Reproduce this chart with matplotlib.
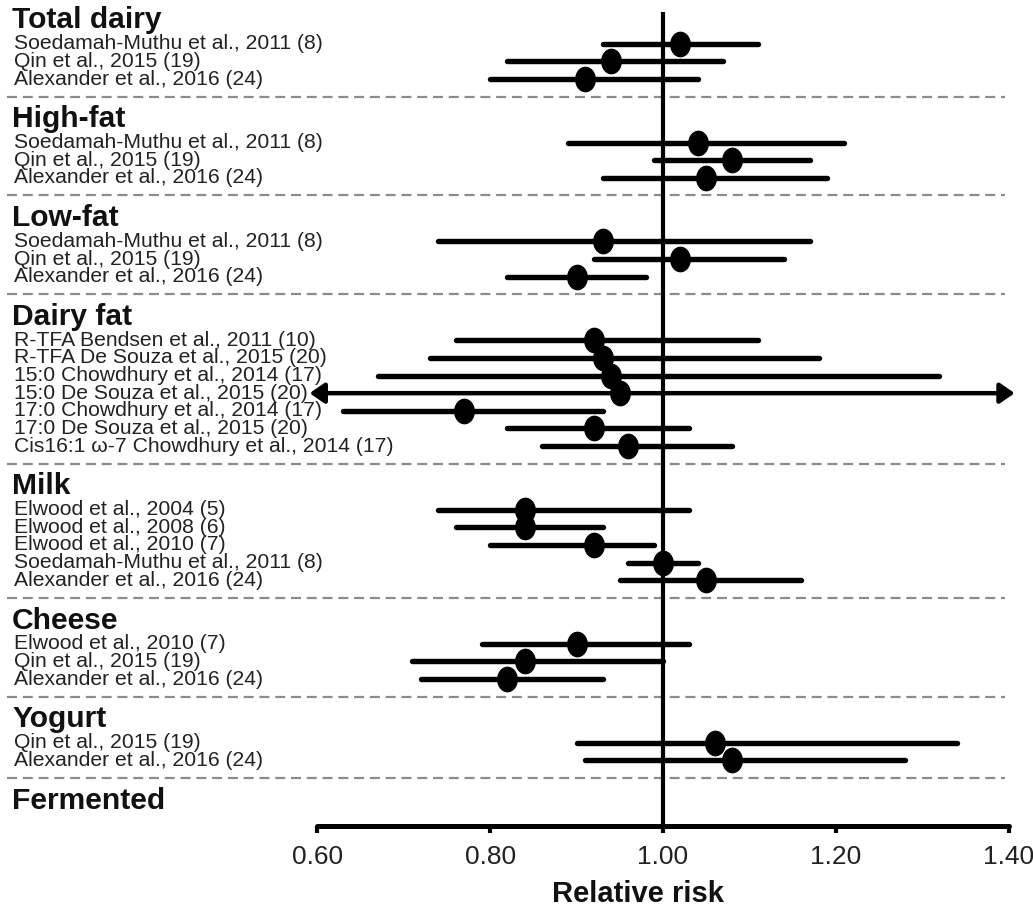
"""Forest plot: dairy intake and relative risk, grouped by dairy type."""

import matplotlib
matplotlib.use("Agg")
import matplotlib.pyplot as plt
import numpy as np
from matplotlib.patches import FancyArrowPatch
from matplotlib.path import Path
from matplotlib.transforms import Affine2D, blended_transform_factory

plt.rcParams["font.family"] = ["Liberation Sans", "DejaVu Sans"]

# ---- data ----
group_names = ["Total dairy", "High-fat", "Low-fat", "Dairy fat",
               "Milk", "Cheese", "Yogurt", "Fermented"]
group_sizes = [3, 3, 3, 7, 5, 3, 2, 0]

study_labels = [
    "Soedamah-Muthu et al., 2011 (8)", "Qin et al., 2015 (19)", "Alexander et al., 2016 (24)",
    "Soedamah-Muthu et al., 2011 (8)", "Qin et al., 2015 (19)", "Alexander et al., 2016 (24)",
    "Soedamah-Muthu et al., 2011 (8)", "Qin et al., 2015 (19)", "Alexander et al., 2016 (24)",
    "R-TFA Bendsen et al., 2011 (10)", "R-TFA De Souza et al., 2015 (20)",
    "15:0 Chowdhury et al., 2014 (17)", "15:0 De Souza et al., 2015 (20)",
    "17:0 Chowdhury et al., 2014 (17)", "17:0 De Souza et al., 2015 (20)",
    "Cis16:1 \u03c9-7 Chowdhury et al., 2014 (17)",
    "Elwood et al., 2004 (5)", "Elwood et al., 2008 (6)", "Elwood et al., 2010 (7)",
    "Soedamah-Muthu et al., 2011 (8)", "Alexander et al., 2016 (24)",
    "Elwood et al., 2010 (7)", "Qin et al., 2015 (19)", "Alexander et al., 2016 (24)",
    "Qin et al., 2015 (19)", "Alexander et al., 2016 (24)",
]
rr = [1.02, 0.94, 0.91,
      1.04, 1.08, 1.05,
      0.93, 1.02, 0.90,
      0.92, 0.93, 0.94, 0.95, 0.77, 0.92, 0.96,
      0.84, 0.84, 0.92, 1.00, 1.05,
      0.90, 0.84, 0.82,
      1.06, 1.08]
ci_low = [0.93, 0.82, 0.80,
          0.89, 0.99, 0.93,
          0.74, 0.92, 0.82,
          0.76, 0.73, 0.67, np.nan, 0.63, 0.82, 0.86,
          0.74, 0.76, 0.80, 0.96, 0.95,
          0.79, 0.71, 0.72,
          0.90, 0.91]
ci_high = [1.11, 1.07, 1.04,
           1.21, 1.17, 1.19,
           1.17, 1.14, 0.98,
           1.11, 1.18, 1.32, np.nan, 0.93, 1.03, 1.08,
           1.03, 0.93, 0.99, 1.04, 1.16,
           1.03, 1.00, 0.93,
           1.34, 1.28]

x_ticks = [0.60, 0.80, 1.00, 1.20, 1.40]
x_ticklabels = ["0.60", "0.80", "1.00", "1.20", "1.40"]

# ---- layout (in row units, y grows downward) ----
W, H = 1033, 913
PX = 17.65                      # pixels per row
header_y, row_y, dash_y = [], [], []
y = 19 / PX
for gi, n in enumerate(group_sizes):
    header_y.append(y)
    y += 1.4
    for _ in range(n):
        row_y.append(y)
        y += 1.0
    if gi < len(group_sizes) - 1:
        y -= 1.0
        dash_y.append(y + 1.0)
        y += 1.0 + 1.2

fig = plt.figure(figsize=(W / 100, H / 100), dpi=100)
ax_left, ax_right, ax_bot = 317.4 / W, 1008.6 / W, (H - 826) / H
ax = fig.add_axes([ax_left, ax_bot, ax_right - ax_left, 1 - ax_bot])
ax.set_xlim(0.60, 1.40)
ax.set_ylim(826 / PX, 0)

figx = blended_transform_factory(fig.transFigure, ax.transData)

# dashed separators
ax.hlines(dash_y, 7 / W, 1005 / W, transform=figx, colors="#8c8c8c",
          linestyles=(0, (4.5, 2.6)), lw=1.6, clip_on=False, zorder=1)

# reference line at 1
ax.vlines(1.0, 12 / PX, 826 / PX, colors="black", lw=3.0, zorder=2)

# marker: vertically stretched ellipse
ellipse = Path.unit_circle().transformed(Affine2D().scale(0.8, 1.0))

for yy, est, lo, hi in zip(row_y, rr, ci_low, ci_high):
    if np.isnan(lo):
        arr = FancyArrowPatch((0.591, yy), (1.407, yy),
                              arrowstyle="<|-|>,head_length=0.55,head_width=0.38",
                              mutation_scale=16, lw=3.2, color="black",
                              shrinkA=0, shrinkB=0, zorder=3, clip_on=False)
        ax.add_patch(arr)
    else:
        ax.plot([lo, hi], [yy, yy], color="black", lw=3.9,
                solid_capstyle="round", zorder=3, clip_on=False)
    ax.plot([est], [yy], marker=ellipse, ms=17.5, color="black",
            linestyle="none", zorder=4, clip_on=False)

# text labels
for gy, name in zip(header_y, group_names):
    ax.text(12 / W, gy + 0.08, name, transform=figx, ha="left", va="center",
            fontsize=21.6, fontweight="bold", color="#111111")
for ry, lab in zip(row_y, study_labels):
    ax.text(14 / W, ry, lab, transform=figx, ha="left", va="center",
            fontsize=15.2, color="#222222")

# axis
for s in ("top", "right", "left"):
    ax.spines[s].set_visible(False)
ax.spines["bottom"].set_linewidth(3.6)
ax.spines["bottom"].set_bounds(0.60, 1.40)
ax.spines["bottom"].set_capstyle("round")
ax.set_yticks([])
ax.set_xticks(x_ticks)
ax.set_xticklabels(x_ticklabels, fontsize=19, color="#222222")
ax.tick_params(axis="x", direction="out", length=5, width=3.0, pad=9)

fig.text(638 / W, 1 - 894 / H, "Relative risk", ha="center", va="center",
         fontsize=21, fontweight="bold", color="#111111")

fig.savefig("out.png", dpi=100)
